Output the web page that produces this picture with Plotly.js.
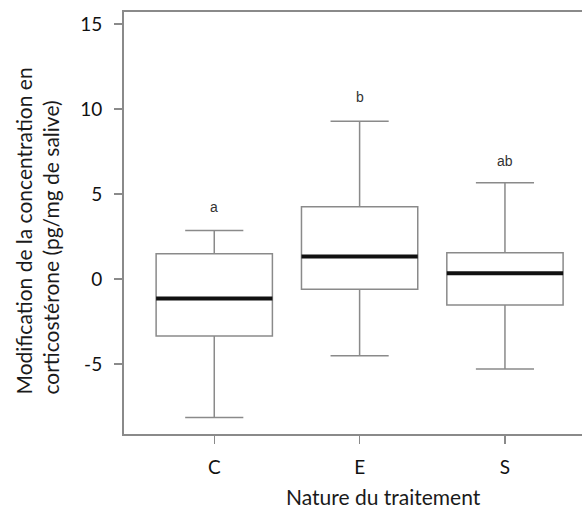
<!DOCTYPE html>
<html>
<head>
<meta charset="utf-8">
<script src="https://cdn.plot.ly/plotly-3.0.1.min.js"></script>
<style>html,body{margin:0;padding:0;background:#fff;}#chart{width:582px;height:512px;}</style>
</head>
<body>
<div id="chart"></div>
<script>
const categories = ["C", "E", "S"];
const lowerWhisker = [-8.14, -4.51, -5.28];
const q1 = [-3.34, -0.59, -1.53];
const median = [-1.14, 1.33, 0.35];
const q3 = [1.49, 4.25, 1.55];
const upperWhisker = [2.86, 9.29, 5.66];
const letters = ["a", "b", "ab"];
const letterY = [4.27, 10.7, 6.96];
const yTicks = [-5, 0, 5, 10, 15];
const yTickLabels = ["-5", "0", "5", "10", "15"];

const gray = "#8a8a8a";
const boxWidth = 0.8;
const idx = categories.map((c, i) => i);

const traces = categories.map((c, i) => ({
  type: "box",
  x: [i],
  q1: [q1[i]], median: [median[i]], q3: [q3[i]],
  lowerfence: [lowerWhisker[i]], upperfence: [upperWhisker[i]],
  width: boxWidth,
  whiskerwidth: 0.5,
  fillcolor: "#ffffff",
  line: {color: gray, width: 1.5},
  boxpoints: false,
  hoverinfo: "skip",
  showlegend: false
}));

// thick black median lines
const mx = [], my = [];
idx.forEach(i => { mx.push(i - boxWidth / 2, i + boxWidth / 2, null); my.push(median[i], median[i], null); });
traces.push({type: "scatter", mode: "lines", x: mx, y: my, line: {color: "#111", width: 4}, showlegend: false, hoverinfo: "skip"});

const annotations = idx.map(i => ({
  x: i, y: letterY[i], xref: "x", yref: "y", text: letters[i], showarrow: false,
  xanchor: "center", yanchor: "middle",
  font: {family: "Liberation Sans, Arial, sans-serif", size: 14, color: "#333"}
}));
annotations.push({
  xref: "paper", yref: "paper", x: -0.191, y: 0.481,
  text: "Modification de la concentration en<br>corticostérone (pg/mg de salive)",
  textangle: -90, showarrow: false, align: "left", xanchor: "center", yanchor: "middle",
  font: {family: "Lato, sans-serif", size: 21, color: "#1a1a1a"}
});
annotations.push({
  xref: "paper", yref: "paper", x: 0.567, y: -0.181,
  text: "Nature du traitement", showarrow: false, xanchor: "center", yanchor: "bottom",
  borderpad: 0,
  font: {family: "Lato, sans-serif", size: 21, color: "#1a1a1a"}
});

const layout = {
  width: 582, height: 512,
  margin: {l: 124, r: 0, t: 12, b: 78},
  paper_bgcolor: "#fff", plot_bgcolor: "#fff",
  showlegend: false,
  font: {family: "Lato, sans-serif", size: 19, color: "#111"},
  xaxis: {
    range: [-0.621, 2.53], tickvals: idx, ticktext: categories,
    showgrid: false, zeroline: false, showline: true, linecolor: gray, linewidth: 2,
    mirror: true, ticks: "outside", ticklen: 8, tickcolor: gray, tickwidth: 1.5,
    ticklabelstandoff: 7
  },
  yaxis: {
    range: [-9.11, 15.71], tickvals: yTicks, ticktext: yTickLabels,
    showgrid: false, zeroline: false, showline: true, linecolor: gray, linewidth: 2,
    ticks: "outside", ticklen: 8, tickcolor: gray, tickwidth: 1.5,
    ticklabelstandoff: 8
  },
  annotations: annotations
};

Plotly.newPlot("chart", traces, layout, {staticPlot: true, displayModeBar: false});
</script>
</body>
</html>
